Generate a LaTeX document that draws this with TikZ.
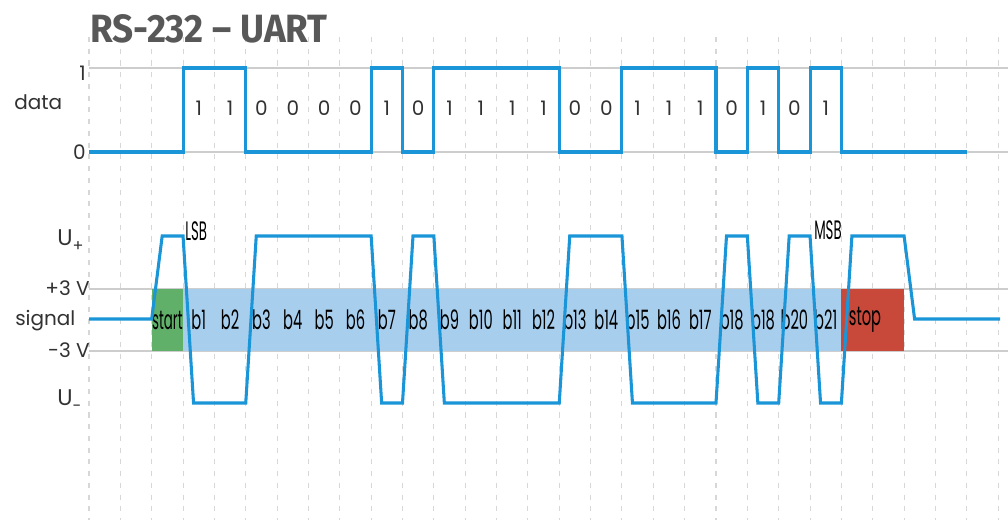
\documentclass[tikz,border=0pt]{standalone}
\usepackage{fontspec}
\setmainfont{Poppins}
\newfontfamily\titlefont{Fira Sans}
\definecolor{wave}{RGB}{26,149,216}
\definecolor{gridc}{RGB}{215,215,215}
\definecolor{hlinec}{RGB}{205,205,205}
\definecolor{bandblue}{RGB}{168,206,238}
\definecolor{bandgreen}{RGB}{96,176,106}
\definecolor{bandred}{RGB}{200,72,58}
\definecolor{labc}{RGB}{50,50,50}
\definecolor{titlec}{RGB}{88,88,88}
\begin{document}
\begin{tikzpicture}[x=0.75pt,y=-0.75pt,
  declare function={X(\k)=89+31.35*\k;},
  gridv/.style={gridc,line width=0.8pt,dash pattern=on 3.8pt off 5pt},
  hline/.style={hlinec,line width=1pt},
  wavel/.style={wave,line width=2.3pt,line join=miter},
  axlab/.style={labc,font=\fontsize{15}{17}\selectfont,inner sep=0pt},
  bit/.style={labc,font=\fontsize{15}{17}\selectfont,inner sep=0pt},
  bandlab/.style={black,font=\fontsize{20}{22}\selectfont,inner sep=0pt},
]
\useasboundingbox (0,0) rectangle (1008,525);
\fill[white] (0,0) rectangle (1008,525);
% grid
\foreach \k in {0,...,29} \draw[gridv] ({X(\k)},37) -- ({X(\k)},520);
% horizontal reference lines
\draw[hline] (89,68) -- (1008,68);
\draw[hline] (89,152) -- (1008,152);
\draw[hline] (89,289) -- (1008,289);
\draw[hline] (89,351) -- (1008,351);
% band
\fill[bandgreen] ({X(2)},289) rectangle ({X(3)},351);
\fill[bandblue] ({X(3)},289) rectangle ({X(24)},351);
\fill[bandred] ({X(24)},289) rectangle ({X(26)},351);
% title
\node[titlec,anchor=south west,inner sep=0pt] (title) at (90,43)
  {\resizebox{178pt}{21pt}{\titlefont\bfseries RS-232 \symbol{"2013} UART}};
% axis labels
\node[axlab,anchor=east] (one) at (86,73) {1};
\node[axlab,anchor=east] (zero) at (86,152) {0};
\node[axlab,anchor=base west] (data) at (14,109) {data};
\node[axlab,anchor=base west] (uplus) at (57,245) {\fontsize{17}{19}\selectfont U\raisebox{-5pt}{\fontsize{12}{14}\selectfont +}};
\node[axlab,anchor=base east] (p3v) at (90,295) {+3 V};
\node[axlab,anchor=base west] (signal) at (15,325) {signal};
\node[axlab,anchor=base east] (m3v) at (90,357) {-3 V};
\node[axlab,anchor=base west] (uminus) at (57,405) {\fontsize{17}{19}\selectfont U\raisebox{-5pt}{\fontsize{12}{14}\selectfont -}};
% data bits
\foreach \b [count=\i from 3] in {1,1,0,0,0,0,1,0,1,1,1,1,0,0,1,1,1,0,1,0,1}
  \node[bit] (bit\i) at ({X(\i)+15.7},108) {\b};
% band labels
\node[bandlab] (start) at ({X(2)+15.7},320) {\scalebox{0.5}[1]{start}};
\foreach \t [count=\i from 3] in {b1,b2,b3,b4,b5,b6,b7,b8,b9,b10,b11,b12,b13,b14,b15,b16,b17,b18,b18,b20,b21}
  \node[bandlab] (lab\i) at ({X(\i)+15.7},320) {\scalebox{0.55}[1]{\t}};
\node[bandlab] (stop) at (865,320) {\scalebox{0.55}[1]{stop}};
\node[bandlab,anchor=base west] (lsb) at (185,240) {\scalebox{0.5}[1]{LSB}};
\node[bandlab,anchor=base] (msb) at (828,239) {\scalebox{0.5}[1]{MSB}};
% data waveform
\draw[wavel] ({X(0)},152) -- ({X(3)},152) -- ({X(3)},68) -- ({X(5)},68) -- ({X(5)},152)
  -- ({X(9)},152) -- ({X(9)},68) -- ({X(10)},68) -- ({X(10)},152) -- ({X(11)},152)
  -- ({X(11)},68) -- ({X(15)},68) -- ({X(15)},152) -- ({X(17)},152) -- ({X(17)},68)
  -- ({X(20)},68) -- ({X(20)},152) -- ({X(21)},152) -- ({X(21)},68) -- ({X(22)},68)
  -- ({X(22)},152) -- ({X(23)},152) -- ({X(23)},68) -- ({X(24)},68) -- ({X(24)},152)
  -- ({X(28)},152);
% signal waveform
\def\d{10.5}
\draw[wavel] ({X(0)},319) -- ({X(2)},319) -- ({X(2)+\d},236) -- ({X(3)},236)
  -- ({X(3)+\d},403) -- ({X(5)},403) -- ({X(5)+\d},236) -- ({X(9)},236)
  -- ({X(9)+\d},403) -- ({X(10)},403) -- ({X(10)+\d},236) -- ({X(11)},236)
  -- ({X(11)+\d},403) -- ({X(15)},403) -- ({X(15)+\d},236) -- ({X(17)},236)
  -- ({X(17)+\d},403) -- ({X(20)},403) -- ({X(20)+\d},236) -- ({X(21)},236)
  -- ({X(21)+\d},403) -- ({X(22)},403) -- ({X(22)+\d},236) -- ({X(23)},236)
  -- ({X(23)+\d},403) -- ({X(24)},403) -- ({X(24)+\d},236) -- ({X(26)},236)
  -- ({X(26)+\d},319) -- (1000,319);
\end{tikzpicture}
\end{document}
